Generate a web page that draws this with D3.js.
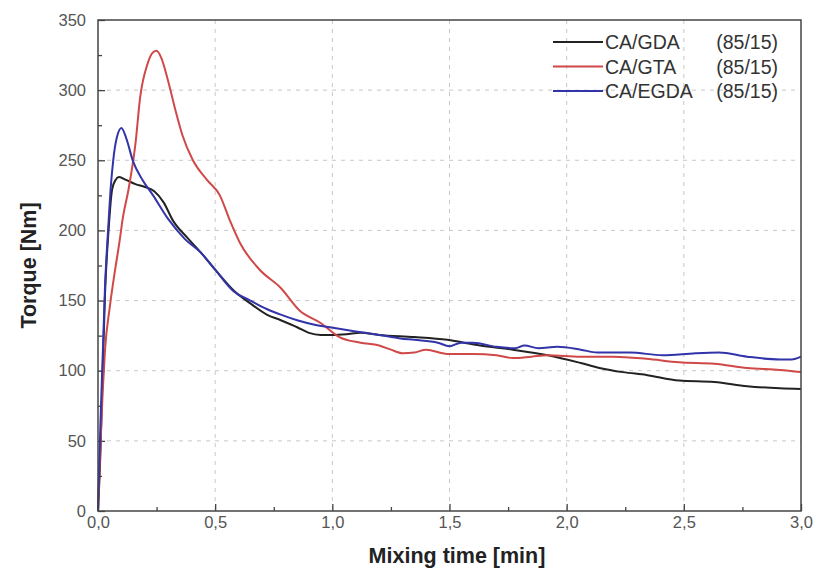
<!DOCTYPE html>
<html>
<head>
<meta charset="utf-8">
<script src="https://cdn.jsdelivr.net/npm/d3@7"></script>
<style>
  body { margin: 0; background: #fff; }
  text { font-family: "Liberation Sans", Arial, sans-serif; }
</style>
</head>
<body>
<script>
// data
var gdaTime = [0, 0.01, 0.02, 0.03, 0.045, 0.06, 0.075, 0.09, 0.12, 0.16, 0.2, 0.24, 0.28, 0.32, 0.38, 0.44, 0.5, 0.58, 0.65, 0.72, 0.78, 0.85, 0.9, 0.95, 1.0, 1.06, 1.12, 1.2, 1.35, 1.49, 1.63, 1.77, 1.92, 2.06, 2.14, 2.24, 2.34, 2.48, 2.63, 2.77, 2.91, 3.0];
var gdaTorque = [0, 40, 100, 155, 200, 229, 236, 238, 236, 233, 231, 228, 220, 207, 195, 184, 172, 157, 148, 140, 136, 131, 127, 125.5, 125.5, 126, 127, 125.5, 124, 122, 118, 115, 111, 105.5, 102, 99, 97, 93, 92, 89, 87.5, 87];

var gtaTime = [0, 0.01, 0.02, 0.03, 0.05, 0.073, 0.09, 0.107, 0.13, 0.16, 0.18, 0.21, 0.235, 0.25, 0.27, 0.3, 0.33, 0.36, 0.405, 0.465, 0.52, 0.563, 0.606, 0.69, 0.78, 0.86, 0.95, 1.03, 1.12, 1.2, 1.25, 1.3, 1.35, 1.4, 1.49, 1.6, 1.7, 1.77, 1.85, 1.92, 2.06, 2.2, 2.34, 2.48, 2.63, 2.77, 2.91, 3.0];
var gtaTorque = [0, 45, 85, 115, 145, 172, 190, 210, 229, 262, 295, 318, 327, 328, 323, 306, 286, 268, 250, 236, 225, 207, 191, 172, 159, 143, 134, 124, 120, 118, 115, 112.5, 113, 115, 112, 112, 111, 109, 110, 111, 110, 110, 108.5, 106, 105, 102, 100.5, 99];

var egdaTime = [0, 0.005, 0.01, 0.02, 0.03, 0.043, 0.055, 0.065, 0.08, 0.1, 0.12, 0.15, 0.19, 0.235, 0.3, 0.37, 0.44, 0.5, 0.576, 0.65, 0.72, 0.78, 0.85, 0.92, 0.99, 1.1, 1.2, 1.29, 1.35, 1.45, 1.5, 1.55, 1.6, 1.7, 1.78, 1.82, 1.88, 1.96, 2.06, 2.13, 2.27, 2.41, 2.55, 2.65, 2.77, 2.91, 2.96, 3.0];
var egdaTorque = [0, 30, 60, 110, 160, 200, 232, 250, 266, 273, 266, 249, 236, 225, 208, 194, 184, 172, 157, 150, 144, 140, 136, 133, 131, 128, 125.5, 123, 122, 120, 117.5, 120, 120, 117, 116, 118, 116, 117, 115, 113, 113, 111, 112.5, 113, 110, 108, 108, 110];

var seriesNames = ["CA/GDA", "CA/GTA", "CA/EGDA"];
var seriesRatio = ["(85/15)", "(85/15)", "(85/15)"];
var seriesColors = ["#222222", "#d04848", "#3333aa"];

var xTicks = [0, 0.5, 1.0, 1.5, 2.0, 2.5, 3.0];
var yTicks = [0, 50, 100, 150, 200, 250, 300, 350];

var w = 816, h = 580;
// plot box
var pLeft = 98, pRight = 801, pTop = 20, pBottom = 511;

var svg = d3.select("body").append("svg")
  .attr("width", w)
  .attr("height", h);

var x = d3.scaleLinear().domain([0, 3]).range([pLeft, pRight]);
var y = d3.scaleLinear().domain([0, 350]).range([pBottom, pTop]);

// dashed grid
svg.selectAll("line.gy")
  .data(yTicks.slice(1, -1))
  .enter().append("line")
  .attr("x1", pLeft).attr("x2", pRight)
  .attr("y1", function(d) { return y(d); })
  .attr("y2", function(d) { return y(d); })
  .attr("stroke", "#c8c8c8")
  .attr("stroke-dasharray", "4,5");

svg.selectAll("line.gx")
  .data(xTicks.slice(1, -1))
  .enter().append("line")
  .attr("y1", pTop).attr("y2", pBottom)
  .attr("x1", function(d) { return x(d); })
  .attr("x2", function(d) { return x(d); })
  .attr("stroke", "#c8c8c8")
  .attr("stroke-dasharray", "4,5");

// axes, ticks inward
var fmt = function(d) { return d3.format(".1f")(d).replace(".", ","); };

svg.append("g")
  .attr("transform", "translate(0," + pBottom + ")")
  .call(d3.axisBottom(x).tickValues(xTicks).tickSize(-7).tickPadding(5).tickFormat(fmt));

svg.append("g")
  .attr("transform", "translate(0," + pBottom + ")")
  .call(d3.axisBottom(x).tickValues([0.25, 0.75, 1.25, 1.75, 2.25, 2.75]).tickSize(-4).tickFormat(""));

svg.append("g")
  .attr("transform", "translate(" + pLeft + ",0)")
  .call(d3.axisLeft(y).tickValues(yTicks).tickSize(-7).tickPadding(12));

svg.append("g")
  .attr("transform", "translate(" + pLeft + ",0)")
  .call(d3.axisLeft(y).tickValues([25, 75, 125, 175, 225, 275, 325]).tickSize(-4).tickFormat(""));

svg.selectAll(".domain").remove();
svg.selectAll(".tick line").attr("stroke", "#444").attr("stroke-width", 1.3);
svg.selectAll(".tick text")
  .attr("fill", "#555")
  .style("font-size", "16.5px");

// series lines
var allSeries = [
  gdaTime.map(function(t, i) { return [t, gdaTorque[i]]; }),
  gtaTime.map(function(t, i) { return [t, gtaTorque[i]]; }),
  egdaTime.map(function(t, i) { return [t, egdaTorque[i]]; })
];

var line = d3.line()
  .x(function(d) { return x(d[0]); })
  .y(function(d) { return y(d[1]); })
  .curve(d3.curveMonotoneX);

svg.selectAll("path.series")
  .data(allSeries)
  .enter().append("path")
  .attr("class", "series")
  .attr("d", line)
  .attr("fill", "none")
  .attr("stroke", function(d, i) { return seriesColors[i]; })
  .attr("stroke-width", 2)
  .attr("stroke-linejoin", "round");

// frame
svg.append("rect")
  .attr("x", pLeft).attr("y", pTop)
  .attr("width", pRight - pLeft).attr("height", pBottom - pTop)
  .attr("fill", "none")
  .attr("stroke", "#444")
  .attr("stroke-width", 1.5);

// legend
var legend = svg.selectAll("g.leg")
  .data(seriesNames)
  .enter().append("g")
  .attr("transform", function(d, i) { return "translate(0," + (42 + i * 24.5) + ")"; });

legend.append("line")
  .attr("x1", 553).attr("x2", 603)
  .attr("stroke", function(d, i) { return seriesColors[i]; })
  .attr("stroke-width", 2);

legend.append("text")
  .attr("x", 605).attr("y", 7)
  .attr("fill", "#333")
  .style("font-size", "19.5px")
  .text(function(d) { return d; });

legend.append("text")
  .attr("x", 778).attr("y", 7)
  .attr("text-anchor", "end")
  .attr("fill", "#333")
  .style("font-size", "19.5px")
  .text(function(d, i) { return seriesRatio[i]; });

// axis titles
svg.append("text")
  .attr("x", 457).attr("y", 563)
  .attr("text-anchor", "middle")
  .attr("font-weight", "bold")
  .attr("fill", "#222")
  .style("font-size", "21.5px")
  .text("Mixing time [min]");

svg.append("text")
  .attr("transform", "translate(36," + ((pTop + pBottom) / 2) + ") rotate(-90)")
  .attr("text-anchor", "middle")
  .attr("font-weight", "bold")
  .attr("fill", "#222")
  .style("font-size", "21.5px")
  .text("Torque [Nm]");
</script>
</body>
</html>
